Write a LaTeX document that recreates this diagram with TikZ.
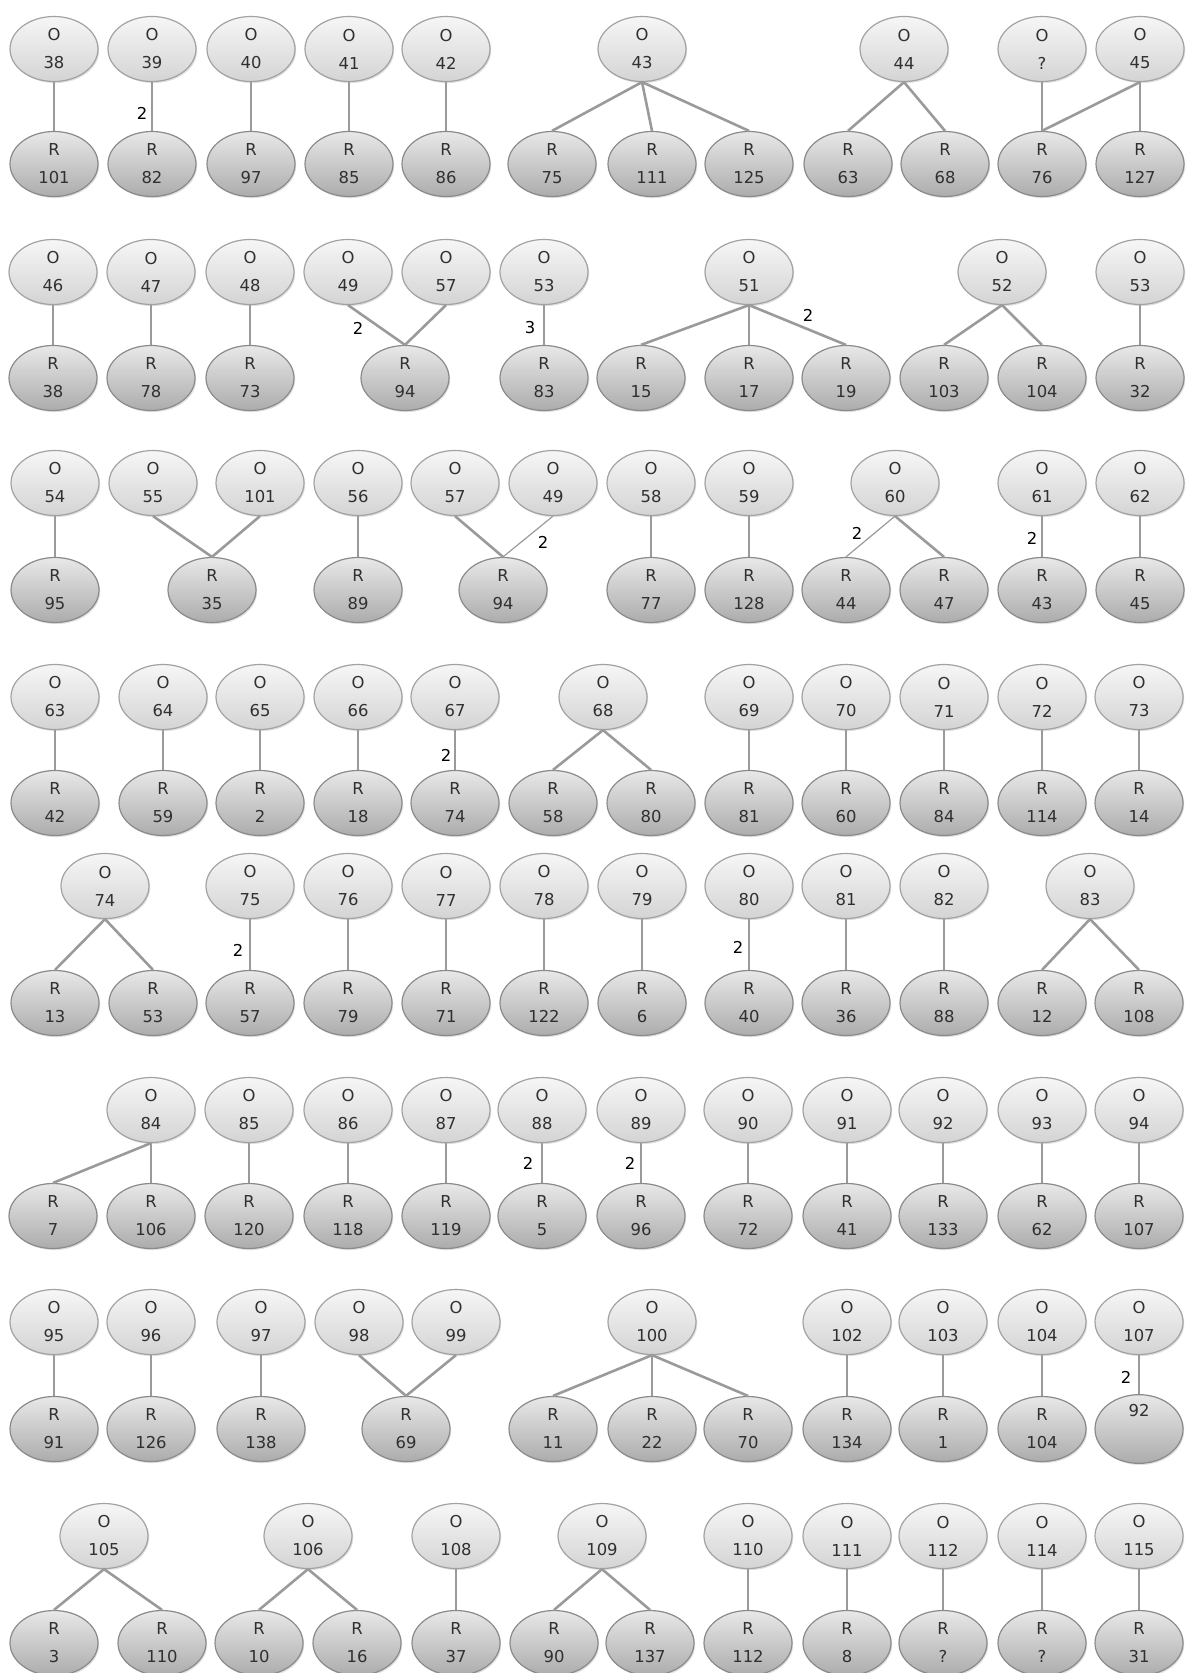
\documentclass[tikz,border=0pt]{standalone}
\usepackage{fontspec}
\setmainfont{DejaVu Sans}
\usepackage{xcolor,tikz}
\usetikzlibrary{shapes.geometric,shadows}
\definecolor{oTop}{HTML}{F6F6F6}
\definecolor{oBot}{HTML}{D4D4D4}
\definecolor{oLine}{HTML}{A2A2A2}
\definecolor{rTop}{HTML}{E8E8E8}
\definecolor{rBot}{HTML}{ACACAC}
\definecolor{rLine}{HTML}{8A8A8A}
\definecolor{edgeGrey}{HTML}{9A9A9A}
\definecolor{txtGrey}{HTML}{303030}

\tikzset{
  pair/.style={ellipse, minimum width=44pt, minimum height=32.5pt, inner sep=0pt,
    align=center, text=txtGrey, line width=0.6pt,
    font=\fontsize{8.2}{14}\selectfont,
    drop shadow={shadow xshift=0.6pt, shadow yshift=-0.8pt, opacity=0.25}},
  onode/.style={pair, draw=oLine, top color=oTop, bottom color=oBot},
  rnode/.style={pair, draw=rLine, top color=rTop, bottom color=rBot},
  link/.style={edgeGrey, line width=1.3pt},
  thinlink/.style={edgeGrey, line width=0.6pt},
  wlabel/.style={inner sep=0pt, text=black, font=\fontsize{8.2}{10}\selectfont}
}

\begin{document}
\begin{tikzpicture}[x=0.5pt, y=-0.5pt]
\useasboundingbox (0,0) rectangle (1185,1673);

% --- ROW 1 ---
\foreach [count=\i] \x/\lab in {54/38, 152/39, 251/40, 349/41, 446/42,
    642/43, 904/44, 1042/?, 1140/45} {
  \node[onode] (o1-\i) at (\x, 49) {O\\\lab};
}
\foreach [count=\j] \x/\lab in {54/101, 152/82, 251/97, 349/85, 446/86,
    552/75, 652/111, 749/125, 848/63, 945/68, 1042/76, 1140/127} {
  \node[rnode] (r1-\j) at (\x, 164) {R\\\lab};
}
\foreach \a/\b in {1/1, 2/2, 3/3, 4/4, 5/5, 6/6, 6/7, 6/8, 7/9, 7/10,
    8/11, 9/11, 9/12} {
  \draw[link] (o1-\a.south) -- (r1-\b.north);
}
\node[wlabel] (w1a) at (142, 113) {2};

% --- ROW 2 ---
\foreach [count=\i] \x/\lab in {53/46, 151/47, 250/48, 348/49, 446/57,
    544/53, 749/51, 1002/52, 1140/53} {
  \node[onode] (o2-\i) at (\x, 272) {O\\\lab};
}
\foreach [count=\j] \x/\lab in {53/38, 151/78, 250/73, 405/94, 544/83,
    641/15, 749/17, 846/19, 944/103, 1042/104, 1140/32} {
  \node[rnode] (r2-\j) at (\x, 378) {R\\\lab};
}
\foreach \a/\b in {1/1, 2/2, 3/3, 4/4, 5/4, 6/5, 7/6, 7/7, 7/8, 8/9,
    8/10, 9/11} {
  \draw[link] (o2-\a.south) -- (r2-\b.north);
}
\node[wlabel] (w2a) at (358, 328) {2};
\node[wlabel] (w2b) at (530, 328) {3};
\node[wlabel] (w2c) at (808, 315) {2};

% --- ROW 3 ---
\foreach [count=\i] \x/\lab in {55/54, 153/55, 260/101, 358/56, 455/57,
    553/49, 651/58, 749/59, 895/60, 1042/61, 1140/62} {
  \node[onode] (o3-\i) at (\x, 483) {O\\\lab};
}
\foreach [count=\j] \x/\lab in {55/95, 212/35, 358/89, 503/94, 651/77,
    749/128, 846/44, 944/47, 1042/43, 1140/45} {
  \node[rnode] (r3-\j) at (\x, 590) {R\\\lab};
}
\foreach \a/\b in {1/1, 2/2, 3/2, 4/3, 5/4, 7/5, 8/6, 9/8, 11/10} {
  \draw[link] (o3-\a.south) -- (r3-\b.north);
}
\foreach \a/\b in {6/4, 9/7, 10/9} {
  \draw[thinlink] (o3-\a.south) -- (r3-\b.north);
}
\node[wlabel] (w3a) at (543, 542) {2};
\node[wlabel] (w3b) at (857, 533) {2};
\node[wlabel] (w3c) at (1032, 538) {2};

% --- ROW 4 ---
\foreach [count=\i] \x/\lab in {55/63, 163/64, 260/65, 358/66, 455/67,
    603/68, 749/69, 846/70, 944/71, 1042/72, 1139/73} {
  \node[onode] (o4-\i) at (\x, 697) {O\\\lab};
}
\foreach [count=\j] \x/\lab in {55/42, 163/59, 260/2, 358/18, 455/74,
    553/58, 651/80, 749/81, 846/60, 944/84, 1042/114, 1139/14} {
  \node[rnode] (r4-\j) at (\x, 803) {R\\\lab};
}
\foreach \a/\b in {1/1, 2/2, 3/3, 4/4, 6/6, 6/7, 7/8, 8/9, 9/10,
    10/11, 11/12} {
  \draw[link] (o4-\a.south) -- (r4-\b.north);
}
\draw[thinlink] (o4-5.south) -- (r4-5.north);
\node[wlabel] (w4a) at (446, 755) {2};

% --- ROW 5 ---
\foreach [count=\i] \x/\lab in {105/74, 250/75, 348/76, 446/77, 544/78,
    642/79, 749/80, 846/81, 944/82, 1090/83} {
  \node[onode] (o5-\i) at (\x, 886) {O\\\lab};
}
\foreach [count=\j] \x/\lab in {55/13, 153/53, 250/57, 348/79, 446/71,
    544/122, 642/6, 749/40, 846/36, 944/88, 1042/12, 1139/108} {
  \node[rnode] (r5-\j) at (\x, 1003) {R\\\lab};
}
\foreach \a/\b in {1/1, 1/2, 2/3, 3/4, 4/5, 5/6, 6/7, 8/9, 9/10,
    10/11, 10/12} {
  \draw[link] (o5-\a.south) -- (r5-\b.north);
}
\draw[thinlink] (o5-7.south) -- (r5-8.north);
\node[wlabel] (w5a) at (238, 950) {2};
\node[wlabel] (w5b) at (738, 947) {2};

% --- ROW 6 ---
\foreach [count=\i] \x/\lab in {151/84, 249/85, 348/86, 446/87, 542/88,
    641/89, 748/90, 847/91, 943/92, 1042/93, 1139/94} {
  \node[onode] (o6-\i) at (\x, 1110) {O\\\lab};
}
\foreach [count=\j] \x/\lab in {53/7, 151/106, 249/120, 348/118, 446/119,
    542/5, 641/96, 748/72, 847/41, 943/133, 1042/62, 1139/107} {
  \node[rnode] (r6-\j) at (\x, 1216) {R\\\lab};
}
\foreach \a/\b in {1/1, 1/2, 2/3, 3/4, 4/5, 7/8, 8/9, 9/10, 10/11,
    11/12} {
  \draw[link] (o6-\a.south) -- (r6-\b.north);
}
\foreach \a/\b in {5/6, 6/7} {
  \draw[thinlink] (o6-\a.south) -- (r6-\b.north);
}
\node[wlabel] (w6a) at (528, 1163) {2};
\node[wlabel] (w6b) at (630, 1163) {2};

% --- ROW 7 ---
\foreach [count=\i] \x/\lab in {54/95, 151/96, 261/97, 359/98, 456/99,
    652/100, 847/102, 943/103, 1042/104, 1139/107} {
  \node[onode] (o7-\i) at (\x, 1322) {O\\\lab};
}
\foreach [count=\j] \x/\lab in {54/91, 151/126, 261/138, 406/69, 553/11,
    652/22, 748/70, 847/134, 943/1, 1042/104} {
  \node[rnode] (r7-\j) at (\x, 1429) {R\\\lab};
}
\node[rnode] (r7-11) at (1139, 1429) {92\\\strut};
\foreach \a/\b in {1/1, 2/2, 3/3, 4/4, 5/4, 6/5, 6/6, 6/7, 7/8, 8/9,
    9/10} {
  \draw[link] (o7-\a.south) -- (r7-\b.north);
}
\draw[thinlink] (o7-10.south) -- (r7-11.north);
\node[wlabel] (w7a) at (1126, 1377) {2};

% --- ROW 8 ---
\foreach [count=\i] \x/\lab in {104/105, 308/106, 456/108, 602/109, 748/110,
    847/111, 943/112, 1042/114, 1139/115} {
  \node[onode] (o8-\i) at (\x, 1536) {O\\\lab};
}
\foreach [count=\j] \x/\lab in {54/3, 162/110, 259/10, 357/16, 456/37,
    554/90, 650/137, 748/112, 847/8, 943/?, 1042/?, 1139/31} {
  \node[rnode] (r8-\j) at (\x, 1643) {R\\\lab};
}
\foreach \a/\b in {1/1, 1/2, 2/3, 2/4, 3/5, 4/6, 4/7, 5/8, 6/9, 7/10,
    8/11, 9/12} {
  \draw[link] (o8-\a.south) -- (r8-\b.north);
}

\end{tikzpicture}
\end{document}
